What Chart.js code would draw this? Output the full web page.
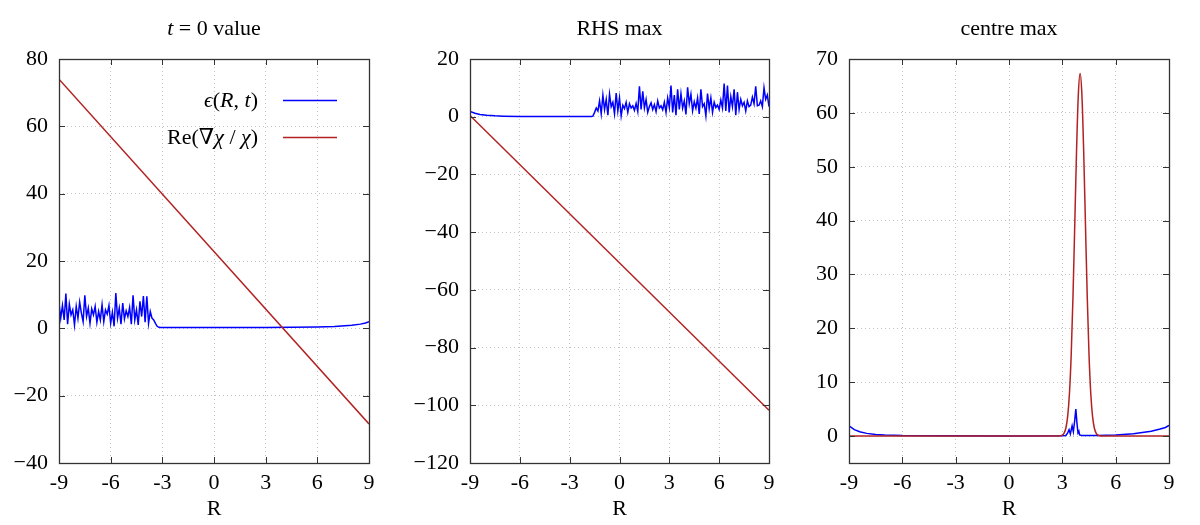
<!DOCTYPE html>
<html>
<head>
<meta charset="utf-8">
<script src="https://cdn.jsdelivr.net/npm/chart.js@4.4.1/dist/chart.umd.min.js"></script>
<style>
  body { margin: 0; background: #fff; width: 1200px; height: 525px; overflow: hidden; position: relative; }
  .panel { position: absolute; top: 0; width: 400px; height: 525px; }
</style>
</head>
<body>
<div class="panel" style="left:0"><canvas id="c1" width="400" height="525"></canvas></div>
<div class="panel" style="left:400px"><canvas id="c2" width="400" height="525"></canvas></div>
<div class="panel" style="left:800px"><canvas id="c3" width="400" height="525"></canvas></div>
<script>
const FONT = '"Liberation Serif", "DejaVu Serif", serif';
const BLUE = '#0000ff';
const RED = '#b22222';

// x axis ticks shared by all panels
const xTicks = [-9, -6, -3, 0, 3, 6, 9];

// --- panel 1: t = 0 value ---
const p1Ticks = [-40, -20, 0, 20, 40, 60, 80];
// noisy part of eps, sampled every 0.1 from R = -9.0
const p1NoiseStart = -9.0;
const p1Noise = [
  7.5, 3.0, 6.8, 2.5, 10.3, 1.2, 7.2, 4.0, 5.5, 1.0,
  6.5, 3.0, 7.8, 4.5, 2.0, 9.8, 3.5, 6.0, 1.5, 5.8,
  4.0, 6.5, 1.8, 5.0, 2.5, 7.0, 2.0, 5.5, 4.2, 6.8,
  1.5, 4.8, 0.6, 10.5, 3.0, 6.0, 1.2, 7.5, 2.8, 5.2,
  3.5, 6.2, 1.2, 9.8, 2.5, 5.5, 1.0, 8.0, 3.5, 9.6,
  1.8, 9.5, 1.5, 5.0, 3.0, 2.5, 1.5, 0.6, 0.3
];
const p1TailR = [-3.1, 0, 3, 6, 7, 8, 8.5, 8.8, 9];
const p1Tail = [0.25, 0.25, 0.28, 0.4, 0.55, 0.9, 1.25, 1.6, 2.0];
const p1RedR = [-9, 9];
const p1Red = [74, -28.4];

// --- panel 2: RHS max ---
const p2Ticks = [-120, -100, -80, -60, -40, -20, 0, 20];
const p2HeadR = [-9, -8.7, -8.4, -8, -7.5, -7, -6, -4, -2, -1.7];
const p2Head = [1.8, 1.2, 0.8, 0.5, 0.3, 0.2, 0.1, 0.05, 0.05, 0.1];
const p2NoiseStart = -1.6;
const p2Noise = [
  0.2, 1.5, 3.0, 2.0, 5.5, 1.0, 7.5, 2.5, 6.0, 0.5,
  7.8, 3.5, 5.0, 1.0, 8.2, 2.0, 6.5, 0.3, 4.0, 2.8,
  5.0, 1.5, 4.5, 3.0, 3.8, 2.2, 4.6, 1.8, 10.5, 2.5,
  8.8, 3.0, 6.0, 1.5, 3.5, 4.8, 2.5, 4.2, 1.8, 5.5,
  3.0, 3.8, 2.4, 5.0, 1.5, 6.5, 3.2, 10.8, 1.5, 7.5,
  0.5, 9.5, 2.5, 8.0, 3.0, 5.5, 0.8, 10.2, 4.5, 7.8,
  2.0, 5.2, 3.0, 6.5, 1.0, 9.5, 3.5, 4.5, 0.3, 8.0,
  2.8, 6.5, 1.5, 5.0, 3.2, 4.0, 2.5, 5.8, 3.0, 11.5,
  2.0, 10.8, 1.5, 7.0, 3.5, 9.5, 0.5, 8.5, 2.5, 6.0,
  3.8, 5.0, 2.0, 5.5, 3.5, 4.0, 6.8, 4.5, 10.5, 3.8,
  4.0, 5.5, 3.5, 10.0, 6.0, 7.5, 3.5
];
const p2RedR = [-9, 9];
const p2Red = [0.4, -101.7];

// --- panel 3: centre max ---
const p3Ticks = [0, 10, 20, 30, 40, 50, 60, 70];
const p3BlueR = [-9, -8.7, -8.4, -8, -7.5, -7, -6, -4, 0, 3, 3.2, 3.3, 3.38, 3.45, 3.55, 3.62, 3.7, 3.76, 3.82, 3.88, 3.93, 3.97, 4.1, 5, 6, 7, 8, 8.5, 8.8, 9];
const p3Blue = [1.9, 1.2, 0.8, 0.5, 0.3, 0.2, 0.1, 0.05, 0.02, 0.05, 0.1, 0.6, 1.2, 0.4, 1.9, 0.8, 3.0, 5.0, 2.5, 0.6, 0.9, 0.2, 0.1, 0.1, 0.2, 0.45, 0.9, 1.3, 1.6, 2.0];
const p3RedR = [-9, 2.6, 2.8, 3.0, 3.1, 3.2, 3.3, 3.4, 3.5, 3.6, 3.7, 3.8, 3.9, 4.0, 4.1, 4.2, 4.3, 4.4, 4.5, 4.6, 4.7, 4.8, 4.9, 5.0, 5.2, 5.4, 9];
const p3Red = [0, 0, 0.01, 0.17, 0.54, 1.5, 3.65, 7.9, 15.2, 26.0, 39.4, 53.0, 63.4, 67.3, 63.4, 53.0, 39.4, 26.0, 15.2, 7.9, 3.65, 1.5, 0.54, 0.17, 0.01, 0, 0];

const zip = (xs, ys) => ys.map((y, i) => ({ x: xs[i], y: y }));
const fromStart = (start, ys) => ys.map((y, i) => ({ x: +(start + i * 0.1).toFixed(2), y: y }));

// draw text made of plain/italic runs
function drawRuns(ctx, runs, x, y, align, size) {
  const fontOf = r => (r[1] ? 'italic ' : '') + size + 'px ' + FONT;
  let w = 0;
  runs.forEach(r => { ctx.font = fontOf(r); w += ctx.measureText(r[0]).width; });
  let cx = align === 'right' ? x - w : align === 'center' ? x - w / 2 : x;
  ctx.textBaseline = 'alphabetic';
  ctx.textAlign = 'left';
  runs.forEach(r => {
    ctx.font = fontOf(r);
    ctx.fillText(r[0], cx, y);
    cx += ctx.measureText(r[0]).width;
  });
}

function decoPlugin(titleRuns, legendItems) {
  return {
    id: 'deco',
    afterDraw(chart) {
      const ctx = chart.ctx;
      const a = chart.chartArea;
      const xs = chart.scales.x, ys = chart.scales.y;
      ctx.save();
      ctx.fillStyle = '#000';
      drawRuns(ctx, titleRuns, (a.left + a.right) / 2, 35, 'center', 22);

      // inward tick marks on all four sides
      ctx.strokeStyle = '#333';
      ctx.lineWidth = 1;
      ctx.beginPath();
      xs.ticks.forEach(t => {
        const px = Math.round(xs.getPixelForValue(t.value)) + 0.5;
        ctx.moveTo(px, a.bottom); ctx.lineTo(px, a.bottom - 6);
        ctx.moveTo(px, a.top); ctx.lineTo(px, a.top + 6);
      });
      ys.ticks.forEach(t => {
        const py = Math.round(ys.getPixelForValue(t.value)) + 0.5;
        ctx.moveTo(a.left, py); ctx.lineTo(a.left + 6, py);
        ctx.moveTo(a.right, py); ctx.lineTo(a.right - 6, py);
      });
      ctx.stroke();
      ctx.lineWidth = 1.3;
      ctx.strokeRect(Math.round(a.left) + 0.5, Math.round(a.top) + 0.5, Math.round(a.right - a.left), Math.round(a.bottom - a.top));

      // legend: text right aligned, line sample to the right
      legendItems.forEach((it, i) => {
        const y = 100 + i * 37;
        ctx.fillStyle = '#000';
        drawRuns(ctx, it.runs, 258, y + 7, 'right', 22);
        ctx.strokeStyle = it.color;
        ctx.lineWidth = 1.3;
        ctx.beginPath();
        ctx.moveTo(283, y + 0.5); ctx.lineTo(337, y + 0.5);
        ctx.stroke();
      });
      ctx.restore();
    }
  };
}

function makePanel(id, cfg) {
  const yFmt = v => v < 0 ? '\u2212' + Math.abs(v) : String(v);
  return new Chart(document.getElementById(id), {
    type: 'line',
    data: { datasets: cfg.datasets.map(d => ({
      data: d.data,
      borderColor: d.color,
      borderWidth: 1.5,
      pointRadius: 0,
      fill: false,
      tension: 0,
      cubicInterpolationMode: d.smooth ? 'monotone' : 'default',
      order: d.order
    })) },
    options: {
      responsive: false,
      animation: false,
      layout: { padding: { left: 0, right: 31, top: 59, bottom: 0 } },
      plugins: { legend: { display: false }, tooltip: { enabled: false } },
      scales: {
        x: {
          type: 'linear', min: -9, max: 9,
          afterBuildTicks: s => { s.ticks = xTicks.map(v => ({ value: v })); },
          afterFit: s => { s.height = 62; },
          ticks: { font: { family: FONT, size: 22 }, color: '#000', padding: 7, callback: v => String(v), maxRotation: 0 },
          grid: { color: '#c4c4c4', drawTicks: false, lineWidth: 1 },
          border: { display: false, dash: [1, 3] },
          title: { display: true, text: 'R', font: { family: FONT, size: 22 }, color: '#000', padding: { top: 0, bottom: 3 } }
        },
        y: {
          type: 'linear', min: cfg.yMin, max: cfg.yMax,
          afterBuildTicks: s => { s.ticks = cfg.yTicks.map(v => ({ value: v })); },
          afterFit: s => { s.width = cfg.yWidth; },
          ticks: { font: { family: FONT, size: 22 }, color: '#000', padding: 11, callback: yFmt },
          grid: { color: '#c4c4c4', drawTicks: false, lineWidth: 1 },
          border: { display: false, dash: [1, 3] }
        }
      }
    },
    plugins: [decoPlugin(cfg.title, cfg.legend || [])]
  });
}

makePanel('c1', {
  yMin: -40, yMax: 80, yTicks: p1Ticks, yWidth: 59,
  title: [['t', true], [' = 0 value', false]],
  legend: [
    { runs: [['\u03f5', true], ['(', false], ['R', true], [', ', false], ['t', true], [')', false]], color: BLUE },
    { runs: [['Re(\u2207', false], ['\u03c7', true], [' / ', false], ['\u03c7', true], [')', false]], color: RED }
  ],
  datasets: [
    { data: fromStart(p1NoiseStart, p1Noise).concat(zip(p1TailR, p1Tail)), color: BLUE, order: 1 },
    { data: zip(p1RedR, p1Red), color: RED, order: 0 }
  ]
});

makePanel('c2', {
  yMin: -120, yMax: 20, yTicks: p2Ticks, yWidth: 70,
  title: [['RHS max', false]],
  datasets: [
    { data: zip(p2HeadR, p2Head).concat(fromStart(p2NoiseStart, p2Noise)), color: BLUE, order: 1 },
    { data: zip(p2RedR, p2Red), color: RED, order: 0 }
  ]
});

makePanel('c3', {
  yMin: -5, yMax: 70, yTicks: p3Ticks, yWidth: 49,
  title: [['centre max', false]],
  datasets: [
    { data: zip(p3BlueR, p3Blue), color: BLUE, order: 1 },
    { data: zip(p3RedR, p3Red), color: RED, order: 0, smooth: true }
  ]
});
</script>
</body>
</html>
